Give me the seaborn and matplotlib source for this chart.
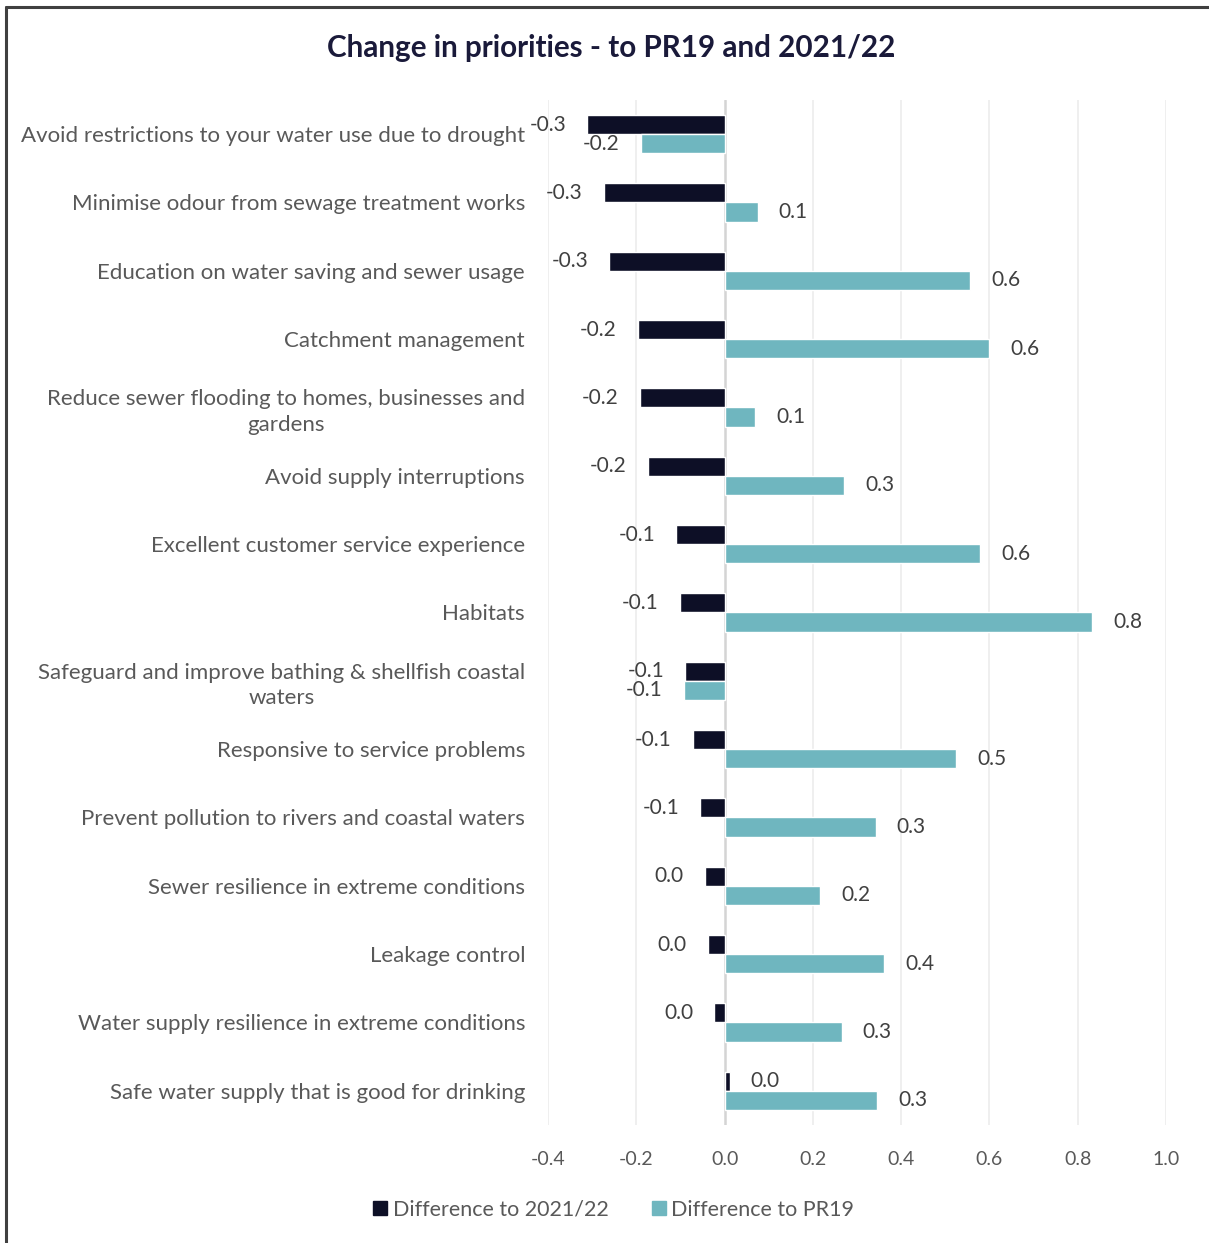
import matplotlib
matplotlib.use("Agg")
import matplotlib.pyplot as plt
from matplotlib.lines import Line2D
import numpy as np
import pandas as pd
import seaborn as sns

# Priority statements, top to bottom
categories = [
    "Avoid restrictions to your water use due to drought",
    "Minimise odour from sewage treatment works",
    "Education on water saving and sewer usage",
    "Catchment management",
    "Reduce sewer flooding to homes, businesses and\ngardens",
    "Avoid supply interruptions",
    "Excellent customer service experience",
    "Habitats",
    "Safeguard and improve bathing & shellfish coastal\nwaters",
    "Responsive to service problems",
    "Prevent pollution to rivers and coastal waters",
    "Sewer resilience in extreme conditions",
    "Leakage control",
    "Water supply resilience in extreme conditions",
    "Safe water supply that is good for drinking",
]

series_names = ["Difference to 2021/22", "Difference to PR19"]

diff_2021_22 = [-0.312, -0.274, -0.262, -0.197, -0.192, -0.174, -0.109, -0.102,
                -0.090, -0.072, -0.055, -0.045, -0.038, -0.023, 0.012]
diff_pr19 = [-0.190, 0.075, 0.557, 0.600, 0.070, 0.271, 0.579, 0.833,
             -0.093, 0.525, 0.342, 0.217, 0.362, 0.265, 0.346]

x_ticks = [-0.4, -0.2, 0.0, 0.2, 0.4, 0.6, 0.8, 1.0]

DARK = "#0d0f26"
TEAL = "#6fb6bf"
GREY_TEXT = "#595959"

df = pd.DataFrame({
    "category": categories * 2,
    "series": [series_names[0]] * len(categories) + [series_names[1]] * len(categories),
    "value": diff_2021_22 + diff_pr19,
})

sns.set_theme(style="white")
plt.rcParams["font.family"] = ["Lato", "DejaVu Sans"]

fig = plt.figure(figsize=(12.09, 12.43), dpi=100)
ax = fig.add_axes([548 / 1209, 1 - 1125 / 1243, (1166 - 548) / 1209, (1125 - 100) / 1243])

sns.barplot(data=df, y="category", x="value", hue="series", orient="h",
            order=categories, hue_order=series_names, palette=[DARK, TEAL],
            saturation=1, width=0.56, edgecolor="white", linewidth=1.0,
            legend=False, ax=ax)

ax.set_xlim(-0.4, 1.0)
ax.set_ylim(len(categories) - 0.5, -0.5)
ax.set_xticks(x_ticks)
ax.set_xticklabels([f"{t:.1f}" for t in x_ticks], fontsize=14, color=GREY_TEXT)
ax.tick_params(axis="x", length=0, pad=19)
ax.tick_params(axis="y", length=0, pad=16.5)
for lbl in ax.get_yticklabels():
    lbl.set_fontsize(16.0)
    lbl.set_color(GREY_TEXT)
    lbl.set_multialignment("center")
    lbl.set_linespacing(1.35)
ax.set_xlabel("")
ax.set_ylabel("")
for s in ax.spines.values():
    s.set_visible(False)

# vertical gridlines, zero line slightly stronger
for t in x_ticks:
    if t == 0:
        ax.axvline(t, color="#d4d4d4", lw=1.8, zorder=0.5)
    else:
        ax.axvline(t, color="#ececec", lw=1.2, zorder=0.5)

# data labels outside bar ends
def fmt(v):
    s = f"{v:.1f}"
    return "0.0" if s == "-0.0" else s

for cont, vals in zip(ax.containers, [diff_2021_22, diff_pr19]):
    ax.bar_label(cont, labels=[fmt(v) for v in vals], padding=15,
                 fontsize=15, color="#404040")

# title
fig.text(0.5055, 1 - 48 / 1243, "Change in priorities - to PR19 and 2021/22",
         ha="center", va="center", fontsize=21.3, fontweight="bold", color="#1a1a3a")

# legend
handles = [Line2D([], [], marker="s", linestyle="none", markersize=10,
                  markerfacecolor=c, markeredgecolor=c) for c in (DARK, TEAL)]
fig.legend(handles, series_names, loc="center", ncol=2, frameon=False,
           bbox_to_anchor=(612 / 1209, 1 - 1210 / 1243), fontsize=15.5,
           labelcolor=GREY_TEXT, handletextpad=0.1, columnspacing=1.8,
           handlelength=1.0)

# outer frame (left and top edges)
fig.add_artist(Line2D([6 / 1209, 6 / 1209], [0, 1 - 7 / 1243],
                      transform=fig.transFigure, color="#404040", lw=2.2))
fig.add_artist(Line2D([6 / 1209, 1], [1 - 7 / 1243, 1 - 7 / 1243],
                      transform=fig.transFigure, color="#404040", lw=2.2))

fig.savefig("out.png", dpi=100)
